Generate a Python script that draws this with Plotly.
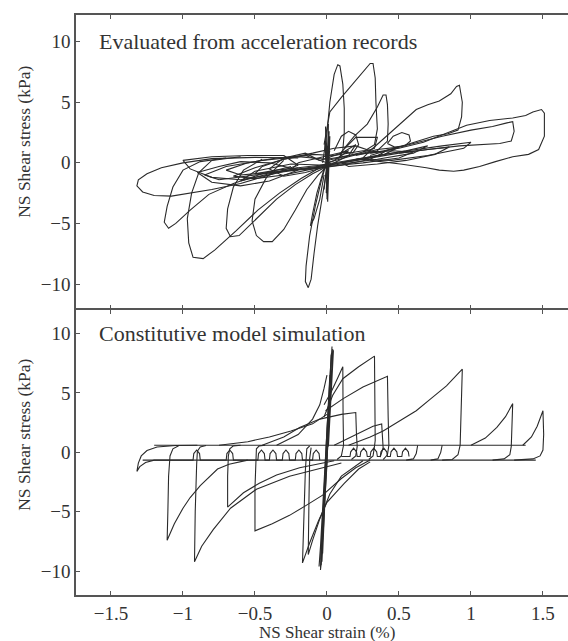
import plotly.graph_objects as go

# ---------------------------------------------------------------
# Stress-strain loops evaluated from acceleration records (kPa vs %)
# ---------------------------------------------------------------
rec_core1_strain = [0.0, 0.2, 0.45, 0.6, 0.5, 0.25, 0.0, -0.25, -0.5, -0.75, -0.85, -0.7, -0.45, -0.2, 0.0]
rec_core1_stress = [0.3, 0.7, 1.0, 0.9, 0.4, 0.0, -0.3, -0.6, -1.0, -1.4, -1.0, -0.3, 0.2, 0.5, 0.3]
rec_core2_strain = [0.0, 0.15, 0.35, 0.5, 0.4, 0.2, 0.0, -0.2, -0.4, -0.6, -0.7, -0.55, -0.35, -0.15, 0.0]
rec_core2_stress = [0.0, 0.5, 1.1, 1.3, 0.7, 0.2, -0.2, -0.5, -0.8, -1.0, -0.6, 0.0, 0.4, 0.6, 0.0]
rec_core3_strain = [0.05, 0.25, 0.4, 0.3, 0.1, -0.1, -0.3, -0.5, -0.65, -0.5, -0.3, -0.1, 0.05]
rec_core3_stress = [0.6, 1.0, 0.9, 0.3, -0.2, -0.5, -1.0, -1.3, -1.1, -0.4, 0.3, 0.7, 0.6]
rec_core4_strain = [-0.05, 0.1, 0.2, 0.15, 0.0, -0.15, -0.3, -0.4, -0.3, -0.15, -0.05]
rec_core4_stress = [0.2, 0.8, 1.5, 0.6, -0.3, -0.8, -1.1, -0.5, 0.4, 0.8, 0.2]
rec_core5_strain = [-0.3, -0.55, -0.8, -1.0, -0.95, -0.8, -0.6, -0.4, -0.2, -0.3]
rec_core5_stress = [0.6, 0.6, 0.5, 0.2, -0.5, -1.2, -1.4, -1.0, -0.2, 0.6]
rec_core6_strain = [0.2, 0.5, 0.8, 1.0, 0.95, 0.7, 0.45, 0.2]
rec_core6_stress = [0.3, 0.9, 1.4, 1.7, 1.2, 0.6, 0.2, 0.3]
rec_core7_strain = [0.05, 0.1, 0.15, 0.2, 0.22, 0.18, 0.1, 0.2, 0.35, 0.33, 0.25]
rec_core7_stress = [1.0, 2.2, 2.6, 2.3, 1.5, 0.8, 0.9, 2.1, 2.1, 1.2, 0.9]
rec_core8_strain = [0.0, 0.3, 0.55, 0.7, 0.6, 0.35, 0.1, -0.15, -0.4, -0.6, -0.5, -0.25, 0.0]
rec_core8_stress = [-0.2, 0.5, 1.0, 1.4, 0.8, 0.3, -0.1, -0.5, -0.9, -1.5, -0.7, -0.1, -0.2]
rec_core9_strain = [-0.1, 0.05, 0.2, 0.3, 0.25, 0.1, -0.05, -0.2, -0.35, -0.5, -0.45, -0.3, -0.1]
rec_core9_stress = [0.8, 1.2, 1.4, 1.0, 0.4, 0.1, -0.2, -0.4, -0.6, -0.9, -0.3, 0.3, 0.8]
rec_core10_strain = [-0.6, -0.75, -0.9, -0.8, -0.6, -0.4, -0.2, -0.4, -0.6]
rec_core10_stress = [0.1, -0.3, -0.8, -1.6, -1.9, -1.5, -0.6, 0.0, 0.1]
rec_core11_strain = [0.1, 0.3, 0.5, 0.7, 0.85, 0.75, 0.55, 0.35, 0.15, 0.1]
rec_core11_stress = [0.0, 0.4, 0.8, 1.1, 1.3, 0.7, 0.2, -0.1, -0.3, 0.0]
rec_core12_strain = [-0.2, 0.0, 0.15, 0.05, -0.1, -0.25, -0.2]
rec_core12_stress = [0.0, 0.6, 1.0, 0.2, -0.5, -0.6, 0.0]
rec_col_strain = [0.0, 0.01, -0.005, 0.015, 0.0, -0.01, 0.01, -0.015, 0.005, 0.02, -0.02, 0.0]
rec_col_stress = [-3.0, 3.2, -2.5, 2.6, -2.8, 3.0, -1.5, 1.8, -3.2, 2.2, -2.2, 0.0]

rec_a_strain = [-0.2, -0.5, -0.8, -1.0, -1.15, -1.25, -1.31, -1.32, -1.28, -1.2, -1.08, -0.95, -0.8, -0.6, -0.4, -0.2]
rec_a_stress = [0.4, 0.45, 0.35, 0.0, -0.4, -0.9, -1.4, -1.9, -2.4, -2.7, -2.75, -2.5, -2.2, -1.7, -1.0, -0.4]
rec_b_strain = [-0.7, -0.88, -1.0, -1.07, -1.11, -1.13, -1.1, -1.05, -0.95, -0.82, -0.65, -0.45, -0.25]
rec_b_stress = [0.4, 0.1, -0.6, -2.0, -3.6, -4.9, -5.4, -5.0, -3.9, -2.6, -1.7, -0.9, -0.3]
rec_c_strain = [-0.6, -0.8, -0.89, -0.94, -0.97, -0.96, -0.93, -0.86, -0.78, -0.63, -0.48, -0.33, -0.18, -0.05]
rec_c_stress = [0.5, 0.2, -0.8, -2.5, -4.6, -6.6, -7.8, -7.9, -7.2, -5.6, -3.9, -2.5, -1.3, -0.4]
rec_d_strain = [-0.45, -0.58, -0.65, -0.69, -0.7, -0.67, -0.61, -0.5, -0.35, -0.22, -0.1, 0.0]
rec_d_stress = [0.3, -0.6, -2.0, -3.8, -5.4, -6.1, -6.0, -4.7, -3.0, -1.8, -0.9, -0.3]
rec_e_strain = [-0.3, -0.42, -0.5, -0.52, -0.49, -0.44, -0.38, -0.3, -0.22, -0.14, -0.06, 0.0]
rec_e_stress = [0.2, -1.2, -3.0, -4.8, -6.0, -6.5, -6.5, -5.5, -3.9, -2.2, -1.0, -0.3]
rec_f_strain = [0.02, -0.04, -0.08, -0.12, -0.145, -0.15, -0.13, -0.11, -0.09, -0.065, -0.035, 0.0]
rec_f_stress = [1.0, -1.5, -3.5, -6.0, -8.5, -9.8, -10.3, -9.6, -7.5, -5.2, -3.0, -0.5]
rec_f2_strain = [-0.02, -0.07, -0.1, -0.115, -0.09, -0.05, -0.02]
rec_f2_stress = [-0.5, -2.5, -4.2, -5.2, -4.6, -3.0, -1.0]
rec_g_strain = [-0.03, 0.0, 0.02, 0.05, 0.075, 0.09, 0.11, 0.12, 0.12, 0.11, 0.08]
rec_g_stress = [0.0, 2.5, 5.0, 7.3, 8.1, 8.0, 6.5, 4.5, 2.5, 1.0, 0.3]
rec_h_strain = [-0.02, 0.02, 0.1, 0.18, 0.25, 0.3, 0.32, 0.335, 0.34, 0.35, 0.33, 0.25, 0.12, 0.0]
rec_h_stress = [1.5, 4.2, 5.4, 6.5, 7.5, 8.2, 8.2, 7.0, 5.0, 2.8, 1.5, 0.9, 0.5, 0.2]
rec_i_strain = [0.12, 0.19, 0.28, 0.35, 0.39, 0.41, 0.42, 0.425, 0.42, 0.35, 0.2]
rec_i_stress = [1.2, 2.2, 3.2, 4.6, 5.6, 5.6, 4.8, 3.2, 1.8, 1.0, 0.6]
rec_j_strain = [0.3, 0.44, 0.55, 0.62, 0.7, 0.78, 0.86, 0.9, 0.92, 0.94, 0.935, 0.91, 0.84, 0.74, 0.55, 0.3]
rec_j_stress = [1.0, 2.5, 3.7, 4.4, 4.8, 5.1, 5.7, 6.3, 6.4, 5.0, 3.8, 2.7, 2.4, 2.2, 1.5, 0.6]
rec_k_strain = [0.3, 0.5, 0.67, 0.82, 0.97, 1.13, 1.29, 1.38, 1.43, 1.49, 1.51, 1.51, 1.47, 1.4, 1.29, 1.17, 1.06, 0.95, 0.88, 0.78, 0.69, 0.51, 0.3]
rec_k_stress = [0.8, 1.2, 1.7, 2.4, 3.1, 3.5, 3.7, 3.9, 4.2, 4.4, 4.1, 2.2, 1.1, 0.7, 0.5, 0.1, -0.3, -0.6, -0.7, -0.6, -0.4, -0.1, 0.2]
rec_l_strain = [0.4, 0.6, 0.8, 1.0, 1.15, 1.25, 1.29, 1.3, 1.28, 1.2, 1.05, 0.92, 0.7, 0.5]
rec_l_stress = [1.0, 1.6, 2.2, 2.7, 3.0, 3.3, 3.4, 2.6, 1.8, 1.6, 1.5, 1.4, 1.1, 0.8]
rec_m_strain = [0.42, 0.46, 0.52, 0.57, 0.58, 0.54, 0.47, 0.42]
rec_m_stress = [1.6, 2.2, 2.5, 2.3, 1.8, 1.4, 1.3, 1.6]

# ---------------------------------------------------------------
# Constitutive model simulation
# ---------------------------------------------------------------
sim_upper_strain = [-1.2, 1.38]
sim_upper_stress = [0.6, 0.6]
sim_lower_strain = [-1.28, 1.45]
sim_lower_stress = [-0.65, -0.65]
sim_hook_strain = [-1.0, -1.2, -1.26, -1.3, -1.32, -1.31, -1.29, -1.25, -1.18, -1.05, -0.9]
sim_hook_stress = [-0.65, -0.65, -0.85, -1.2, -1.6, -0.9, -0.3, 0.15, 0.45, 0.58, 0.6]

sim_v1_strain = [-0.55, -0.68, -0.76, -0.88, -0.95, -1.0, -1.06, -1.11, -1.105, -1.1, -1.09, -1.07, -1.03]
sim_v1_stress = [-0.65, -1.0, -1.4, -2.8, -3.8, -4.7, -6.0, -7.4, -5.0, -2.0, -0.3, 0.3, 0.55]
sim_v2_strain = [0.1, -0.03, -0.26, -0.49, -0.67, -0.79, -0.87, -0.92, -0.915, -0.905, -0.9, -0.88, -0.84]
sim_v2_stress = [-0.9, -1.3, -2.0, -3.1, -4.7, -6.5, -7.9, -9.2, -5.0, -1.0, 0.1, 0.45, 0.58]
sim_v3_strain = [0.05, -0.19, -0.35, -0.47, -0.58, -0.69, -0.69, -0.685, -0.675, -0.65, -0.6]
sim_v3_stress = [-0.7, -1.3, -1.9, -2.6, -3.4, -4.6, -2.0, -0.3, 0.3, 0.55, 0.6]
sim_v4_strain = [0.3, 0.2, 0.1, -0.03, -0.15, -0.26, -0.38, -0.5, -0.5, -0.495, -0.49, -0.47, -0.43]
sim_v4_stress = [-0.65, -1.3, -2.2, -3.6, -4.5, -5.3, -6.0, -6.6, -3.0, -0.4, 0.3, 0.55, 0.6]
sim_v5_strain = [0.3, 0.22, 0.12, 0.0, -0.06, -0.12, -0.17, -0.16, -0.15, -0.14, -0.12]
sim_v5_stress = [-0.8, -1.4, -2.6, -4.2, -5.8, -7.6, -9.3, -5.0, -1.5, 0.3, 0.55]
sim_v6_strain = [0.25, 0.1, 0.02, -0.05, -0.1, -0.13, -0.125, -0.12, -0.11]
sim_v6_stress = [-0.7, -2.0, -3.5, -5.6, -7.4, -8.6, -4.0, -0.5, 0.4]

sim_p1_strain = [0.15, 0.3, 0.39, 0.51, 0.62, 0.72, 0.83, 0.94, 0.935, 0.93, 0.925, 0.91, 0.87, 0.8]
sim_p1_stress = [0.6, 1.3, 1.8, 2.7, 3.5, 4.5, 5.6, 7.0, 4.0, 1.0, 0.6, -0.2, -0.6, -0.65]
sim_p2_strain = [1.0, 1.1, 1.18, 1.24, 1.29, 1.285, 1.28, 1.27, 1.23, 1.15]
sim_p2_stress = [0.6, 1.2, 2.1, 3.0, 4.1, 2.0, 0.5, -0.2, -0.55, -0.65]
sim_p3_strain = [1.36, 1.42, 1.46, 1.5, 1.505, 1.5, 1.48, 1.43, 1.3]
sim_p3_stress = [0.6, 1.3, 2.2, 3.5, 1.5, 0.2, -0.3, -0.55, -0.65]
sim_p4_strain = [-0.02, 0.04, 0.11, 0.22, 0.33, 0.335, 0.335, 0.33, 0.32, 0.29]
sim_p4_stress = [3.0, 4.8, 6.2, 7.2, 8.1, 4.0, 1.0, 0.5, -0.3, -0.6]
sim_p5_strain = [-0.01, 0.11, 0.25, 0.42, 0.425, 0.43, 0.42, 0.39]
sim_p5_stress = [3.5, 4.5, 5.5, 6.4, 3.0, 0.6, -0.2, -0.6]
sim_p6_strain = [-0.02, 0.03, 0.08, 0.11, 0.112, 0.115, 0.1, 0.07]
sim_p6_stress = [4.0, 5.1, 6.4, 7.2, 3.0, 0.6, -0.3, -0.6]
sim_p7_strain = [-0.45, -0.3, -0.19, -0.05, 0.1, 0.2, 0.205, 0.21, 0.2, 0.17]
sim_p7_stress = [0.6, 1.3, 2.1, 2.8, 3.2, 3.35, 1.5, 0.5, -0.3, -0.6]
sim_p8_strain = [0.05, 0.15, 0.25, 0.32, 0.38, 0.385, 0.39, 0.37]
sim_p8_stress = [0.6, 1.2, 1.8, 2.2, 2.4, 1.0, 0.4, -0.4]
sim_q1_strain = [-0.75, -0.55, -0.4, -0.25, -0.1, 0.0]
sim_q1_stress = [0.6, 0.9, 1.3, 1.8, 2.4, 3.2]
sim_q2_strain = [-0.35, -0.2, -0.1, -0.05, -0.02, 0.0]
sim_q2_stress = [0.6, 1.5, 2.8, 4.0, 5.4, 6.5]

sim_spike_strain = [0.0, 0.03, 0.035, 0.0, -0.04, -0.045, 0.0, 0.025, 0.03, 0.0, -0.03, -0.035, 0.0,
                    0.02, 0.028, 0.0, -0.02, -0.04, 0.0, 0.015, 0.02, -0.01, -0.025, -0.03, 0.0]
sim_spike_stress = [0.0, 7.5, 8.9, 2.0, -8.0, -9.9, -1.0, 6.0, 8.2, 1.5, -7.0, -9.2, -0.5,
                    5.0, 7.0, 0.5, -5.5, -9.5, 0.0, 4.0, 6.5, -0.5, -6.0, -8.5, 0.0]
sim_spike2_strain = [0.01, 0.04, 0.045, 0.015, -0.02, -0.05, -0.055, -0.01, 0.02, 0.04, 0.03, -0.005,
                     -0.03, -0.05, -0.02, 0.01, 0.035, 0.04, 0.005, -0.025, -0.045, 0.0]
sim_spike2_stress = [0.5, 6.8, 8.6, 3.0, -4.0, -8.8, -9.6, -2.0, 3.5, 7.9, 8.3, 1.0,
                     -5.0, -9.0, -3.5, 2.0, 7.0, 8.7, 0.5, -6.5, -9.8, 0.0]
sim_ripple_strain = [-1.0, -0.93, -0.925, -0.905, -0.885, -0.88, -0.7, -0.695, -0.675, -0.655, -0.65, -0.48,
                     -0.475, -0.455, -0.435, -0.43, -0.4, -0.395, -0.375, -0.355, -0.35, -0.31, -0.305, -0.285,
                     -0.265, -0.26, -0.22, -0.215, -0.195, -0.175, -0.17, -0.1, -0.095, -0.075, -0.055, -0.05]
sim_ripple_stress = [-0.65, -0.65, -0.1, 0.2, -0.1, -0.65, -0.65, -0.1, 0.2, -0.1, -0.65, -0.65,
                     -0.1, 0.2, -0.1, -0.65, -0.65, -0.1, 0.2, -0.1, -0.65, -0.65, -0.1, 0.2,
                     -0.1, -0.65, -0.65, -0.1, 0.2, -0.1, -0.65, -0.65, -0.1, 0.2, -0.1, -0.65]
sim_ripple2_strain = [0.1, 0.16, 0.165, 0.185, 0.205, 0.21, 0.23, 0.235, 0.255, 0.275, 0.28, 0.3, 0.305,
                      0.325, 0.345, 0.35, 0.37, 0.375, 0.395, 0.415, 0.42, 0.44, 0.445, 0.465, 0.485,
                      0.49, 0.52, 0.525, 0.545, 0.565, 0.57]
sim_ripple2_stress = [-0.35, -0.35, 0.05, 0.35, 0.05, -0.35, -0.35, 0.05, 0.35, 0.05, -0.35, -0.35, 0.05,
                      0.35, 0.05, -0.35, -0.35, 0.05, 0.35, 0.05, -0.35, -0.35, 0.05, 0.35, 0.05,
                      -0.35, -0.35, 0.05, 0.35, 0.05, -0.35]
sim_j1_strain = [0.55, 0.6, 0.62, 0.63]
sim_j1_stress = [-0.65, -0.55, -0.1, 0.6]
sim_j2_strain = [0.72, 0.77, 0.79, 0.8]
sim_j2_stress = [-0.65, -0.55, 0.0, 0.6]

rec_segments = [
    (rec_core1_strain, rec_core1_stress), (rec_core2_strain, rec_core2_stress),
    (rec_core3_strain, rec_core3_stress), (rec_core4_strain, rec_core4_stress),
    (rec_core5_strain, rec_core5_stress), (rec_core6_strain, rec_core6_stress),
    (rec_core7_strain, rec_core7_stress), (rec_core8_strain, rec_core8_stress),
    (rec_core9_strain, rec_core9_stress), (rec_core10_strain, rec_core10_stress),
    (rec_core11_strain, rec_core11_stress), (rec_core12_strain, rec_core12_stress),
    (rec_col_strain, rec_col_stress),
    (rec_a_strain, rec_a_stress), (rec_b_strain, rec_b_stress), (rec_c_strain, rec_c_stress),
    (rec_d_strain, rec_d_stress), (rec_e_strain, rec_e_stress), (rec_f_strain, rec_f_stress),
    (rec_f2_strain, rec_f2_stress), (rec_g_strain, rec_g_stress), (rec_h_strain, rec_h_stress),
    (rec_i_strain, rec_i_stress), (rec_j_strain, rec_j_stress), (rec_k_strain, rec_k_stress),
    (rec_l_strain, rec_l_stress), (rec_m_strain, rec_m_stress),
]
sim_segments = [
    (sim_upper_strain, sim_upper_stress), (sim_lower_strain, sim_lower_stress),
    (sim_hook_strain, sim_hook_stress), (sim_v1_strain, sim_v1_stress), (sim_v2_strain, sim_v2_stress),
    (sim_v3_strain, sim_v3_stress), (sim_v4_strain, sim_v4_stress), (sim_v5_strain, sim_v5_stress),
    (sim_v6_strain, sim_v6_stress), (sim_p1_strain, sim_p1_stress), (sim_p2_strain, sim_p2_stress),
    (sim_p3_strain, sim_p3_stress), (sim_p4_strain, sim_p4_stress), (sim_p5_strain, sim_p5_stress),
    (sim_p6_strain, sim_p6_stress), (sim_p7_strain, sim_p7_stress), (sim_p8_strain, sim_p8_stress),
    (sim_q1_strain, sim_q1_stress), (sim_q2_strain, sim_q2_stress), (sim_spike_strain, sim_spike_stress),
    (sim_spike2_strain, sim_spike2_stress),
    (sim_ripple_strain, sim_ripple_stress), (sim_ripple2_strain, sim_ripple2_stress),
    (sim_j1_strain, sim_j1_stress), (sim_j2_strain, sim_j2_stress),
]

strain_ticks = [-1.5, -1, -0.5, 0, 0.5, 1, 1.5]
strain_labels = ["\u22121.5", "\u22121", "\u22120.5", "0", "0.5", "1", "1.5"]
stress_ticks = [-10, -5, 0, 5, 10]

LINE = dict(color="#2a2a2a", width=1.1)
FONT = "Liberation Serif, Times New Roman, serif"
INK = "#333333"

fig = go.Figure()
for sx, sy in rec_segments:
    fig.add_trace(go.Scatter(x=sx, y=sy, mode="lines", line=LINE, xaxis="x", yaxis="y",
                             showlegend=False, hoverinfo="skip"))
for sx, sy in sim_segments:
    fig.add_trace(go.Scatter(x=sx, y=sy, mode="lines", line=LINE, xaxis="x2", yaxis="y2",
                             showlegend=False, hoverinfo="skip"))

axis_common = dict(showline=True, linecolor="#555555", linewidth=1.5, ticks="inside", ticklen=4,
                   tickcolor="#555555", showgrid=False, zeroline=False,
                   tickfont=dict(family=FONT, size=19, color=INK))
xr = [-1.743, 1.674]
# plot area runs from y=15 to y=595 px; the panels meet at y=309 on one shared frame line
split = 0.4931
gap = 0.00129
fig.update_layout(
    width=568, height=641,
    margin=dict(l=76, r=0, t=15, b=46),
    paper_bgcolor="white", plot_bgcolor="white",
    xaxis=dict(domain=[0, 1], anchor="y", range=xr, tickvals=strain_ticks, showticklabels=False,
               mirror="ticks", **axis_common),
    yaxis=dict(domain=[split + gap, 1], anchor="x", range=[-12, 12.2], tickvals=stress_ticks, **axis_common),
    xaxis2=dict(domain=[0, 1], anchor="y2", range=xr, tickvals=strain_ticks, ticktext=strain_labels,
                mirror="ticks", **axis_common),
    yaxis2=dict(domain=[0, split - gap], anchor="x2", range=[-12, 12], tickvals=stress_ticks, **axis_common),
)

fig.add_annotation(x=-1.6, y=10, xref="x", yref="y", text="Evaluated from acceleration records",
                   showarrow=False, xanchor="left", yanchor="middle",
                   font=dict(family=FONT, size=22, color=INK))
fig.add_annotation(x=-1.6, y=10, xref="x2", yref="y2", text="Constitutive model simulation",
                   showarrow=False, xanchor="left", yanchor="middle",
                   font=dict(family=FONT, size=22, color=INK))
for yc in (0.781, 0.276):
    fig.add_annotation(x=-0.106, y=yc, xref="paper", yref="paper", text="NS Shear stress (kPa)",
                       showarrow=False, textangle=-90, xanchor="center", yanchor="middle",
                       font=dict(family=FONT, size=17.5, color=INK))
fig.add_annotation(x=0, y=-0.0655, xref="x2", yref="paper", text="NS Shear strain (%)",
                   showarrow=False, xanchor="center", yanchor="middle",
                   font=dict(family=FONT, size=17, color=INK))

fig.write_html("out.html")
